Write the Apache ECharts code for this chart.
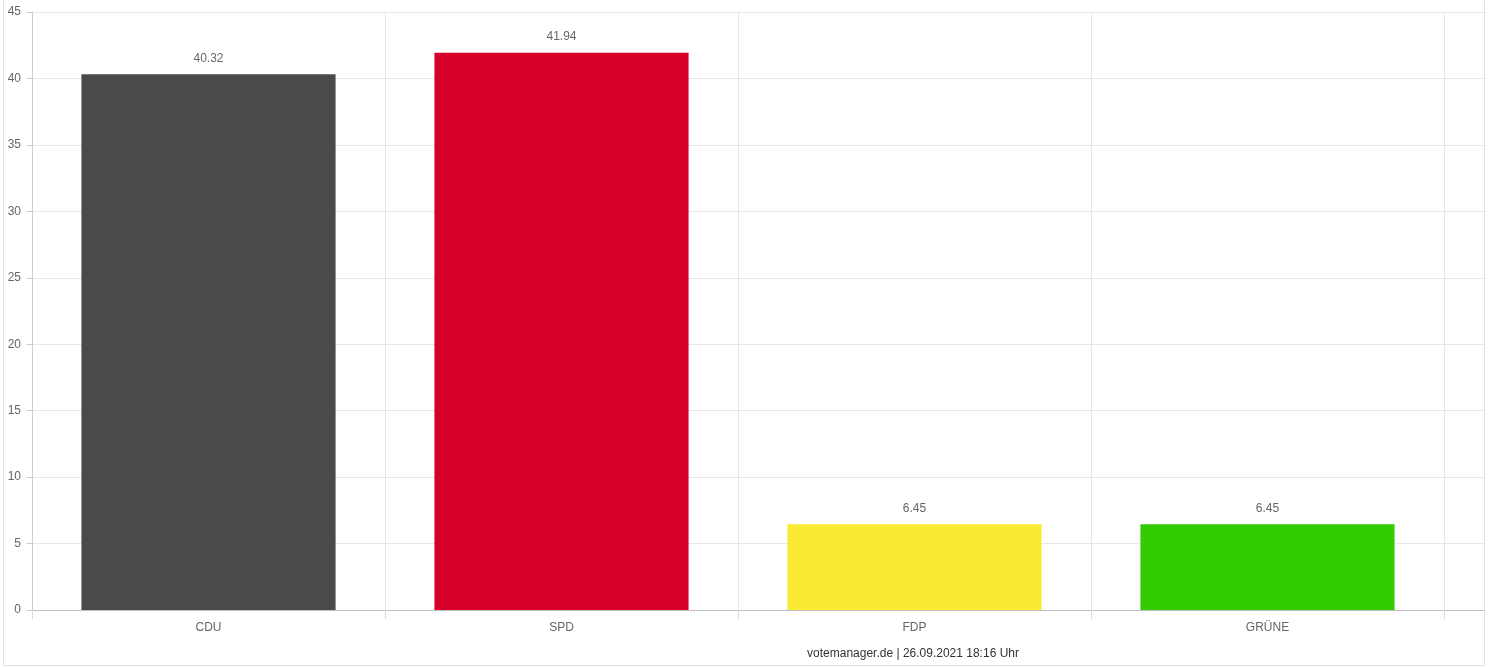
<!DOCTYPE html>
<html>
<head>
<meta charset="utf-8">
<script src="https://cdn.jsdelivr.net/npm/echarts@6/dist/echarts.min.js"></script>
<style>
html,body{margin:0;padding:0;background:#fff;}
#c{width:1491px;height:668px;}
</style>
</head>
<body>
<div id="c"></div>
<script>
const categories = ['CDU', 'SPD', 'FDP', 'GRÜNE'];
const values = [40.32, 41.94, 6.45, 6.45];
const barColors = ['#4a4a4a', '#d6002a', '#fbea32', '#33cc00'];
const yTicks = { min: 0, max: 45, interval: 5 };
const footer = 'votemanager.de | 26.09.2021 18:16 Uhr';

const font = 'Liberation Sans, Arial, sans-serif';
const chart = echarts.init(document.getElementById('c'));
chart.setOption({
  animation: false,
  textStyle: { fontFamily: font },
  grid: [
    { left: 32, right: 7, top: 12, bottom: 58 },
    { left: 32, right: 47, top: 12, bottom: 58 }
  ],
  xAxis: [
    { gridIndex: 0, type: 'category', data: [''],
      axisLine: { show: true, lineStyle: { color: '#bdbdbd' } },
      axisTick: { show: false }, axisLabel: { show: false }, splitLine: { show: false } },
    { gridIndex: 1, type: 'category', data: categories,
      axisLine: { show: false },
      axisTick: { show: true, length: 9, lineStyle: { color: '#d9d9d9' } },
      axisLabel: { color: '#666', fontSize: 12, margin: 12, fontFamily: font },
      splitLine: { show: true, lineStyle: { color: '#e6e6e6' } } }
  ],
  yAxis: [
    { gridIndex: 0, type: 'value', min: yTicks.min, max: yTicks.max, interval: yTicks.interval,
      axisLine: { show: true, lineStyle: { color: '#cccccc' } },
      axisTick: { show: true, length: 5, lineStyle: { color: '#cccccc' } },
      axisLabel: { color: '#666', fontSize: 12, margin: 11, fontFamily: font },
      splitLine: { show: true, lineStyle: { color: '#e8e8e8' } } },
    { gridIndex: 1, type: 'value', min: yTicks.min, max: yTicks.max, interval: yTicks.interval,
      show: false, splitLine: { show: false } }
  ],
  series: [{
    type: 'bar', xAxisIndex: 1, yAxisIndex: 1,
    barWidth: '72%',
    data: values.map((v, i) => ({ value: v, itemStyle: { color: barColors[i] } })),
    label: { show: true, position: 'top', distance: 10, color: '#666', fontSize: 12, fontFamily: font }
  }],
  graphic: [
    { type: 'rect', shape: { x: 3.5, y: -20, width: 1481, height: 685.5 },
      style: { fill: 'none', stroke: '#dde2e8', lineWidth: 1 }, silent: true },
    { type: 'text', x: 913, y: 654,
      style: { text: footer, fill: '#333', font: '12px ' + font, textAlign: 'center', textVerticalAlign: 'middle' } }
  ]
});
</script>
</body>
</html>
